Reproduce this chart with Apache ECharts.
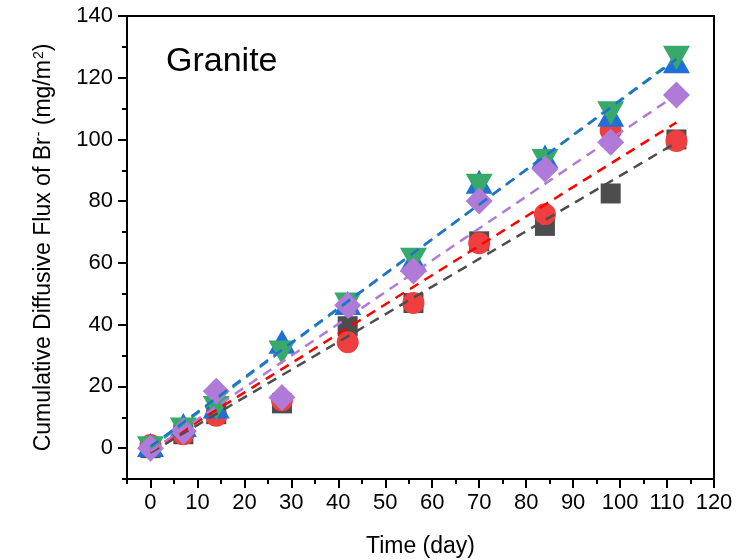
<!DOCTYPE html>
<html>
<head>
    <meta charset="utf-8">
    <title>Granite</title>
    <script src="https://cdn.jsdelivr.net/npm/echarts@6/dist/echarts.min.js"></script>
</head>
<body style="margin:0">
<div id="main" style="width: 754px;height:560px;"></div>
<script type="text/javascript">
    // data
    var days = [0, 7, 14, 28, 42, 56, 70, 84, 98, 112];
    var blackVals = [0, 4.5, 11, 14.5, 39.5, 47, 67, 72, 82.5, 100];
    var redVals = [1, 4.5, 10.5, 15.5, 34.3, 47, 66.4, 75.8, 102.9, 99.5];
    var blueVals = [1, 7.5, 13.5, 34.5, 47, 61, 86.3, 94.5, 108, 125.3];
    var greenVals = [0, 6, 13, 31, 46.5, 61, 85, 93, 108.5, 126.5];
    var purpleVals = [0, 5.5, 18.4, 16.4, 46.3, 57.4, 80.1, 90.4, 99.1, 114.4];

    // dashed fit lines, end points
    var fitDays = [0, 112];
    var fitBlack = [-1.5, 99];
    var fitRed = [-1, 105.5];
    var fitBlue = [0.5, 126];
    var fitGreen = [0, 126.3];
    var fitPurple = [-1, 114.5];

    var xMajor = [0, 10, 20, 30, 40, 50, 60, 70, 80, 90, 100, 110, 120];
    var xMinor = [-5, 5, 15, 25, 35, 45, 55, 65, 75, 85, 95, 105, 115];
    var yMajor = [0, 20, 40, 60, 80, 100, 120, 140];
    var yMinor = [-10, 10, 30, 50, 70, 90, 110, 130];

    var font = 'Arial, "Liberation Sans", sans-serif';

    function pairs(xs, ys) {
        return xs.map(function (x, i) { return [x, ys[i]]; });
    }

    var myChart = echarts.init(document.getElementById('main'));

    function points(name, vals, symbol, size, color, rotate) {
        return {
            name: name,
            type: 'scatter',
            xAxisIndex: 0,
            yAxisIndex: 0,
            symbol: symbol,
            symbolSize: size,
            symbolRotate: rotate || 0,
            itemStyle: {color: color, opacity: 1},
            z: 2,
            data: pairs(days, vals)
        };
    }

    function fit(name, vals, color) {
        return {
            name: name,
            type: 'line',
            xAxisIndex: 0,
            yAxisIndex: 0,
            showSymbol: false,
            symbol: 'none',
            lineStyle: {color: color, width: 2.5, type: [10, 7]},
            z: 3,
            data: pairs(fitDays, vals)
        };
    }

    option = {
        backgroundColor: '#ffffff',
        animation: false,
        title: {
            text: 'Granite',
            left: 161,
            top: 40,
            textStyle: {fontFamily: font, fontSize: 34, fontWeight: 'normal', color: '#000'}
        },
        grid: {
            left: 127, right: 40, top: 16, bottom: 81,
            containLabel: false,
            outerBoundsMode: 'none',
            show: true, borderColor: '#000', borderWidth: 2, backgroundColor: 'transparent'
        },
        xAxis: [{
            type: 'value',
            min: -5, max: 120,
            name: 'Time (day)',
            nameLocation: 'middle',
            nameGap: 56,
            nameTextStyle: {fontFamily: font, fontSize: 23, color: '#000'},
            axisLine: {onZero: false, lineStyle: {color: '#000', width: 2}},
            axisTick: {show: true, length: 9, lineStyle: {color: '#000', width: 2}, customValues: xMajor},
            axisLabel: {fontFamily: font, fontSize: 22, color: '#000', margin: 13, customValues: xMajor},
            splitLine: {show: false}
        }, {
            type: 'value',
            position: 'bottom',
            min: -5, max: 120,
            axisLine: {show: false, onZero: false},
            axisTick: {show: true, length: 5, lineStyle: {color: '#000', width: 2}, customValues: xMinor},
            axisLabel: {show: false},
            splitLine: {show: false}
        }],
        yAxis: [{
            type: 'value',
            min: -10, max: 140,
            name: '{n|Cumulative Diffusive Flux of Br}{s|-}{n| (mg/m}{s|2}{n|)}',
            nameLocation: 'middle',
            nameRotate: 90,
            nameGap: 71,
            nameTextStyle: {
                rich: {
                    n: {fontFamily: font, fontSize: 23, color: '#000'},
                    s: {fontFamily: font, fontSize: 14, color: '#000', verticalAlign: 'top', padding: [0, 0, 10, 1]}
                }
            },
            axisLine: {onZero: false, lineStyle: {color: '#000', width: 2}},
            axisTick: {show: true, length: 9, lineStyle: {color: '#000', width: 2}, customValues: yMajor},
            axisLabel: {fontFamily: font, fontSize: 22, color: '#000', margin: 14, customValues: yMajor},
            splitLine: {show: false}
        }, {
            type: 'value',
            position: 'left',
            min: -10, max: 140,
            axisLine: {show: false, onZero: false},
            axisTick: {show: true, length: 5, lineStyle: {color: '#000', width: 2}, customValues: yMinor},
            axisLabel: {show: false},
            splitLine: {show: false}
        }],
        series: [
            points('S1', blackVals, 'rect', [20, 20], '#4d4d4d'),
            points('S2', redVals, 'circle', 22, '#ef3e40'),
            points('S3', blueVals, 'triangle', [27, 24], '#1f6fd6'),
            points('S4', greenVals, 'triangle', [27, 24], '#37a96a', 180),
            points('S5', purpleVals, 'diamond', [27, 27], '#b07ad9'),
            fit('F1', fitBlack, '#4d4d4d'),
            fit('F2', fitRed, '#ff0000'),
            fit('F4', fitGreen, '#37a96a'),
            fit('F3', fitBlue, '#1f6fd6'),
            fit('F5', fitPurple, '#b07ad9')
        ]
    };

    myChart.setOption(option);
</script>
</body>
</html>
